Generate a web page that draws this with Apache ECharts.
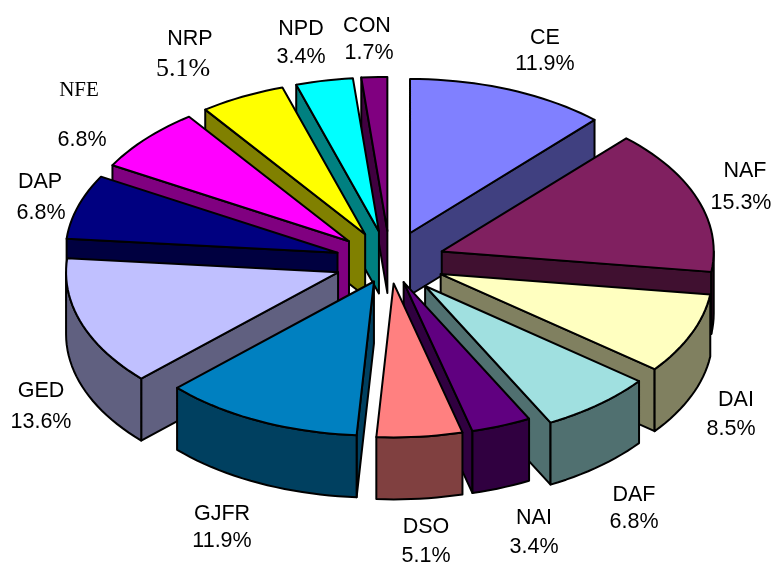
<!DOCTYPE html>
<html>
<head>
<meta charset="utf-8">
<title>Pie</title>
<style>
  html, body { margin: 0; padding: 0; background: #fff; }
  #chart { width: 776px; height: 563px; }
</style>
<script src="https://cdn.jsdelivr.net/npm/echarts@6/dist/echarts.min.js"></script>
</head>
<body>
<div id="chart"></div>
<script>
// clockwise from 12 o'clock
const names = ['CE', 'NAF', 'DAI', 'DAF', 'NAI', 'DSO', 'GJFR', 'GED', 'DAP', 'NFE', 'NRP', 'NPD', 'CON'];
const percents = [11.9, 15.3, 8.5, 6.8, 3.4, 5.1, 11.9, 13.6, 6.8, 6.8, 5.1, 3.4, 1.7];

const topColors = ['#8080ff', '#802060', '#ffffc0', '#a0e0e0', '#600080', '#ff8080', '#0080c0',
  '#c0c0ff', '#000080', '#ff00ff', '#ffff00', '#00ffff', '#800080'];
const sideColors = ['#404080', '#401030', '#808060', '#507070', '#300040', '#804040', '#004060',
  '#606080', '#000040', '#800080', '#808000', '#008080', '#400040'];

// label centres: [x, name y, x of percent, percent y]
const labelPos = [
  [545, 38, 545, 64], [745, 171, 741, 203], [736, 400, 731, 429], [634, 495, 634, 522],
  [534, 518, 534, 547], [426, 527, 426, 556], [222, 514, 222, 541], [41, 391, 41, 422],
  [40, 182, 41, 213], [79, 90, 82, 140], [190, 39, 183, 69], [301, 29, 301, 57], [367, 26, 369, 53]
];
const SANS = '"Liberation Sans", Arial, sans-serif';
const SERIF = '"Liberation Serif", "Times New Roman", serif';

const CX = 390, CY = 262;
const RX = 272, RY = 154;
const DEPTH = 62;
const EXPLODE = 55, EXPLODE_FRONT = 38;
const RAD = Math.PI / 180;

const total = percents.reduce((a, b) => a + b, 0);
// the left half of the source pie sits a touch further round
const toAngle = (sum) => {
  const deg = sum / total * 360;
  return deg > 160 && deg < 359.9 ? deg + 0.6 : deg;
};
let acc = 0;
const slices = percents.map((v, i) => {
  const a0 = toAngle(acc);
  acc += v;
  const a1 = toAngle(acc);
  return { index: i, a0: a0, a1: a1, mid: (a0 + a1) / 2 };
});
// painter's order, far slices first
const drawOrder = slices.slice().sort((a, b) => Math.cos(b.mid * RAD) - Math.cos(a.mid * RAD));

const rimPoint = (apex, deg, drop) => [
  apex[0] + RX * Math.sin(deg * RAD),
  apex[1] - RY * Math.cos(deg * RAD) + drop
];
const arc = (apex, from, to, drop) => {
  const pts = [];
  const steps = Math.max(2, Math.ceil((to - from) / 2));
  for (let i = 0; i <= steps; i++) {
    pts.push(rimPoint(apex, from + (to - from) * i / steps, drop));
  }
  return pts;
};
const poly = (points, fill) => ({
  type: 'polygon',
  shape: { points: points },
  style: { fill: fill, stroke: '#000', lineWidth: 2, lineJoin: 'round' },
  silent: true
});

const renderSlice = (params) => {
  const s = drawOrder[params.dataIndex];
  const cos = Math.cos(s.mid * RAD);
  const e = cos < -0.85 ? EXPLODE_FRONT : EXPLODE;
  const apex = [
    CX + e * Math.sin(s.mid * RAD),
    CY - e * (RY / RX) * cos
  ];
  const side = sideColors[s.index];
  const below = [apex[0], apex[1] + DEPTH];
  const children = [];
  // radial walls
  if (Math.sin(s.a1 * RAD) > 0) {
    const p = rimPoint(apex, s.a1, 0);
    children.push(poly([apex, p, [p[0], p[1] + DEPTH], below], side));
  }
  if (Math.sin(s.a0 * RAD) < 0) {
    const p = rimPoint(apex, s.a0, 0);
    children.push(poly([apex, p, [p[0], p[1] + DEPTH], below], side));
  }
  // outer wall, only the part facing the viewer
  const from = Math.max(s.a0, 90), to = Math.min(s.a1, 270);
  if (to > from) {
    children.push(poly(arc(apex, from, to, 0).concat(arc(apex, from, to, DEPTH).reverse()), side));
  }
  children.push(poly([apex].concat(arc(apex, s.a0, s.a1, 0)), topColors[s.index]));
  return { type: 'group', children: children };
};

const textEl = (x, y, text, font, size) => ({
  type: 'text',
  x: x,
  y: y,
  silent: true,
  style: {
    text: text,
    fill: '#000',
    font: size + 'px ' + font,
    align: 'center',
    verticalAlign: 'middle'
  }
});
const labels = [];
names.forEach((name, i) => {
  const p = labelPos[i];
  labels.push(textEl(p[0], p[1], name, name === 'NFE' ? SERIF : SANS, name === 'NFE' ? 21 : 21.5));
  const pct = percents[i].toFixed(1) + '%';
  labels.push(textEl(p[2], p[3], pct, name === 'NRP' ? SERIF : SANS, name === 'NRP' ? 26 : 21.5));
});

const chart = echarts.init(document.getElementById('chart'));
chart.setOption({
  animation: false,
  backgroundColor: '#fff',
  series: [{
    type: 'custom',
    coordinateSystem: 'none',
    renderItem: renderSlice,
    data: drawOrder.map((s) => ({ name: names[s.index], value: percents[s.index] }))
  }],
  graphic: { elements: labels }
});
</script>
</body>
</html>
